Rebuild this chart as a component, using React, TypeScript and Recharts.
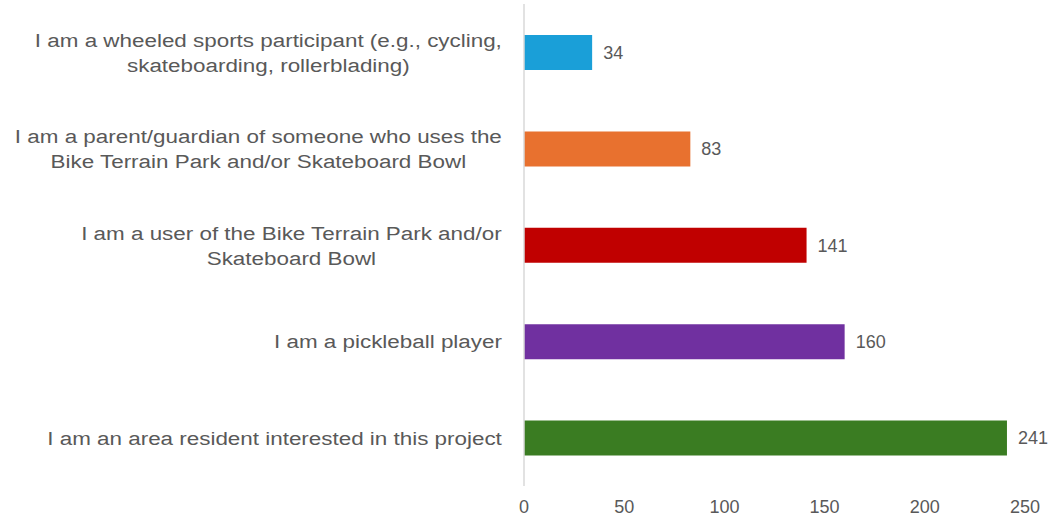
import React from "react";
import { BarChart, Bar, XAxis, YAxis, Cell, LabelList } from "recharts";

const categories: string[] = [
  "I am a wheeled sports participant (e.g., cycling,\nskateboarding, rollerblading)",
  "I am a parent/guardian of someone who uses the\nBike Terrain Park and/or Skateboard Bowl",
  "I am a user of the Bike Terrain Park and/or\nSkateboard Bowl",
  "I am a pickleball player",
  "I am an area resident interested in this project",
];
const counts: number[] = [34, 83, 141, 160, 241];
const barColors: string[] = ["#1A9FD8", "#E8712F", "#C00000", "#7030A0", "#3A7C22"];
const xTicks: number[] = [0, 50, 100, 150, 200, 250];

const data = categories.map((c, i) => ({ category: c, value: counts[i] }));

const FONT = "'Liberation Sans', Arial, sans-serif";
const TEXT_COLOR = "#595959";
const LABEL_SIZE = 19;
const SX = 1.18;
const NUM_SIZE = 18;

let measureCtx: CanvasRenderingContext2D | null = null;
function measure(s: string): number {
  if (!measureCtx) {
    const c = document.createElement("canvas");
    measureCtx = c.getContext("2d");
  }
  if (!measureCtx) return s.length * LABEL_SIZE * 0.5;
  measureCtx.font = `${LABEL_SIZE}px 'Liberation Sans'`;
  return measureCtx.measureText(s).width;
}

const CategoryTick = (props: any) => {
  const { x, y, payload } = props;
  const lines: string[] = String(payload.value).split("\n");
  const maxW = Math.max(...lines.map(measure)) * SX;
  const right = x - 14;
  const cx = right - maxW / 2;
  const lh = 25;
  const first = y + 7 - (lh / 2) * (lines.length - 1);
  return (
    <g>
      {lines.map((l, i) => (
        <text
          key={i}
          x={0}
          y={0}
          transform={`translate(${cx},${first + i * lh}) scale(${SX},1)`}
          textAnchor="middle"
          fill={TEXT_COLOR}
          fontSize={LABEL_SIZE}
          fontFamily={FONT}
        >
          {l}
        </text>
      ))}
    </g>
  );
};

export default function App() {
  return (
    <div style={{ position: "absolute", left: 0, top: 0, width: 1060, height: 520, background: "#fff" }}>
      <BarChart
        width={1060}
        height={520}
        data={data}
        layout="vertical"
        margin={{ top: 4, right: 35, bottom: 0, left: 0 }}
      >
        <XAxis
          type="number"
          domain={[0, 250]}
          ticks={xTicks}
          axisLine={false}
          tickLine={false}
          tickSize={0}
          tickMargin={14}
          height={34}
          tick={{ fill: TEXT_COLOR, fontSize: NUM_SIZE, fontFamily: FONT }}
          interval={0}
        />
        <YAxis
          type="category"
          dataKey="category"
          width={524}
          axisLine={{ stroke: "#D9D9D9", strokeWidth: 1.5 }}
          tickLine={false}
          tick={<CategoryTick />}
          interval={0}
        />
        <Bar dataKey="value" barSize={35} isAnimationActive={false}>
          {data.map((d, i) => (
            <Cell key={i} fill={barColors[i]} />
          ))}
          <LabelList
            dataKey="value"
            position="right"
            offset={11}
            fill={TEXT_COLOR}
            fontSize={NUM_SIZE}
            fontFamily={FONT}
          />
        </Bar>
      </BarChart>
    </div>
  );
}
